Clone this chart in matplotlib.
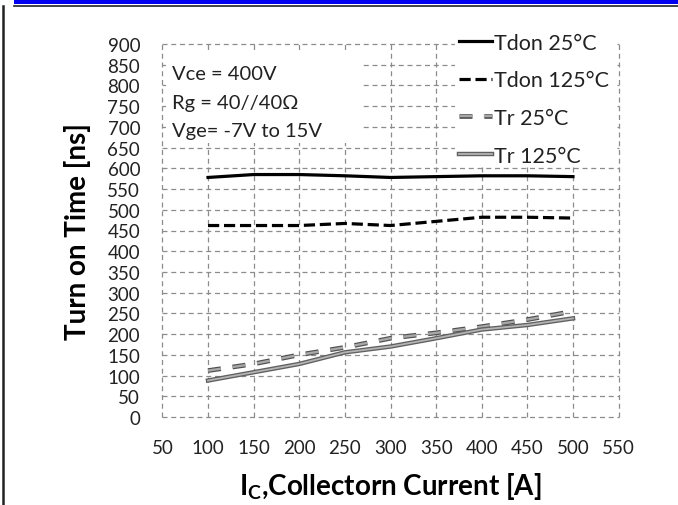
import numpy as np
import matplotlib
matplotlib.use("Agg")
import matplotlib.pyplot as plt
from matplotlib import patheffects as pe
from matplotlib.patches import Rectangle
from matplotlib.lines import Line2D

plt.rcParams['font.family'] = ['Lato', 'DejaVu Sans']

# turn-on switching times vs collector current
ic = [100, 150, 200, 250, 300, 350, 400, 450, 500]
tdon_25 = [578, 585, 585, 582, 578, 580, 582, 582, 580]
tdon_125 = [462, 462, 462, 467, 462, 472, 482, 482, 480]
tr_25 = [112, 128, 150, 168, 190, 203, 218, 235, 255]
tr_125 = [88, 108, 128, 156, 170, 190, 211, 222, 238]

x_ticks = list(range(50, 551, 50))
y_ticks = list(range(0, 901, 50))
conditions = ["Vce = 400V", "Rg = 40//40\u03a9", "Vge= -7V to 15V"]

W, H = 678, 506
fig = plt.figure(figsize=(W / 100, H / 100), dpi=100)

# page decoration: blue header bar and black frame
fig.patches.append(Rectangle((14 / W, 1 - 5 / H), 1, 5 / H, transform=fig.transFigure,
                             facecolor='#0000f0', edgecolor='none'))
fig.lines.append(Line2D([14 / W, 1], [1 - 6.5 / H] * 2, transform=fig.transFigure,
                        color='#222222', lw=1.2))
fig.lines.append(Line2D([3 / W] * 2, [0, 1 - 7 / H], transform=fig.transFigure,
                        color='#222222', lw=1.8))

ax = fig.add_axes([162.4 / W, 88 / H, 456.2 / W, 373 / H])
ax.set_xlim(50, 550)
ax.set_ylim(0, 900)
ax.set_xticks(x_ticks)
ax.set_yticks(y_ticks)
ax.tick_params(length=0, labelsize=13.5, colors='#222222')
ax.tick_params(axis='x', pad=16)
ax.tick_params(axis='y', pad=16)
for s in ax.spines.values():
    s.set_visible(False)
ax.grid(True, color='#8c8c8c', linestyle=(0, (4, 3)), linewidth=0.9)
for gl in ax.get_xgridlines() + ax.get_ygridlines():
    gl.set_clip_on(False)
ax.set_axisbelow(True)

ax.set_xlabel("I$_\\mathregular{C}$,Collectorn Current [A]", fontsize=20, fontweight='bold',
              labelpad=10)
ax.set_ylabel("Turn on Time [ns]", fontsize=20, fontweight='bold', labelpad=12)

ax.plot(ic, tdon_25, color='black', lw=2.3, label="Tdon 25\u00b0C", zorder=4)
ax.plot(ic, tdon_125, color='black', lw=2.3, linestyle=(0, (3.5, 1.5)),
        label="Tdon 125\u00b0C", zorder=4)
ax.plot(ic, tr_25, color='#a8a8a8', lw=1.7, linestyle=(0, (5.5, 5)), label="Tr 25\u00b0C",
        zorder=4, path_effects=[pe.Stroke(linewidth=3.4, foreground='#505050'), pe.Normal()])
ax.plot(ic, tr_125, color='#b4b4b4', lw=1.3, label="Tr 125\u00b0C", zorder=4,
        path_effects=[pe.Stroke(linewidth=3.2, foreground='#606060'), pe.Normal()])

# white areas behind the condition text and the legend
ax.add_patch(Rectangle((54, 662), 216, 220, facecolor='white', edgecolor='none', zorder=2))
ax.add_patch(Rectangle((371, 606), 174, 320, facecolor='white', edgecolor='none', zorder=2,
                       clip_on=False))
for i, txt in enumerate(conditions):
    ax.text(60, 828 - i * 68, txt, fontsize=14.5, va='center', ha='left', color='#222222',
            zorder=3)

leg = ax.legend(loc='upper left', bbox_to_anchor=(0.638, 1.045), fontsize=15.5, frameon=False,
                handlelength=1.55, handletextpad=0.1, labelspacing=0.82, borderpad=0.25,
                borderaxespad=0)
for t in leg.get_texts():
    t.set_color('#222222')

fig.savefig("out.png", dpi=100)
